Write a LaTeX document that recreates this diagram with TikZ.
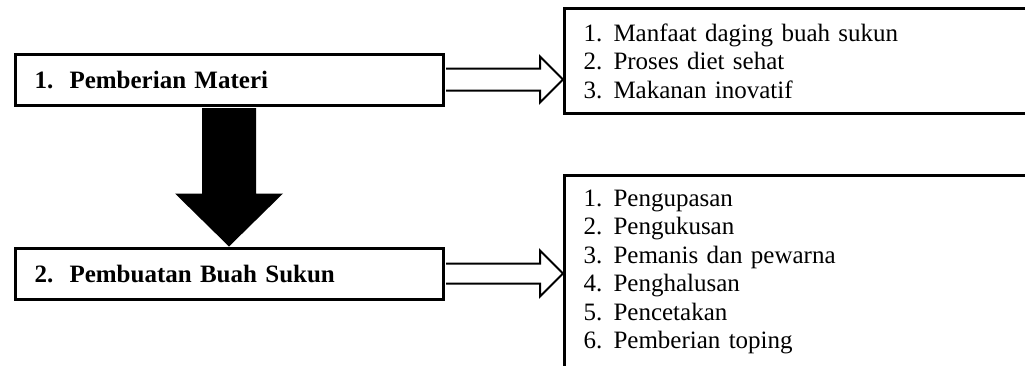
\documentclass[tikz,border=0pt]{standalone}
\usepackage{fontspec}
\setmainfont{Liberation Serif}
\usetikzlibrary{calc}

\newcommand{\butir}[2]{\makebox[30pt][l]{#1}#2}
\newcommand{\judul}[2]{\makebox[35pt][l]{#1}#2}

\begin{document}
\begin{tikzpicture}[x=1pt, y=-1pt, line join=miter,
	mainbox/.style={draw, line width=3pt, minimum width=428pt, minimum height=51pt, inner xsep=19.5pt, text width=389pt, align=left, font=\fontsize{25}{28.4}\selectfont\bfseries},
	listbox/.style={draw, line width=3pt, minimum width=480pt, inner xsep=19pt, text width=442pt, align=left, font=\fontsize{25}{28.4}\selectfont},
	hollow/.style={draw, line width=2pt, fill=white}]
		\clip (0,0) rectangle (1025,365);
		\useasboundingbox (0,0) rectangle (1025,365);
		
		\node[mainbox, anchor=north west] (materi) at (13.5,52.5) {\judul{1.}{Pemberian Materi}};
		\node[mainbox, anchor=north west] (pembuatan) at (13.5,246.5) {\judul{2.}{Pembuatan Buah Sukun}};
		
		\node[listbox, anchor=west, minimum height=105pt] (isimateri) at (563,61) {\butir{1.}{Manfaat daging buah sukun}\\ \butir{2.}{Proses diet sehat}\\ \butir{3.}{Makanan inovatif}};
		\node[listbox, anchor=west, minimum height=193pt] (isipembuatan) at (563,272) {\butir{1.}{Pengupasan}\\ \butir{2.}{Pengukusan}\\ \butir{3.}{Pemanis dan pewarna}\\ \butir{4.}{Penghalusan}\\ \butir{5.}{Pencetakan}\\ \butir{6.}{Pemberian toping}};
		
		% panah tebal antar langkah
		\fill ($(materi.south)+(-27,1.5)$) -- ($(pembuatan.north)+(-27,-53)$) -- ++(-27,0) -- (pembuatan.north) -- ++(54,-53) -- ++(-27,0) -- ($(materi.south)+(27,1.5)$) -- cycle;
		
		% panah ke rincian
		\draw[hollow] ($(materi.east)+(1.5,-11)$) -- ($(materi.east -| isimateri.west)+(-23,-11)$) -- ++(0,-12) -- (materi.east -| isimateri.west) -- ++(-23,23) -- ++(0,-12) -- ($(materi.east)+(1.5,11)$);
		\draw[hollow] ($(pembuatan.east)+(1.5,-10)$) -- ($(pembuatan.east -| isipembuatan.west)+(-23,-10)$) -- ++(0,-13) -- (pembuatan.east -| isipembuatan.west) -- ++(-23,23) -- ++(0,-13) -- ($(pembuatan.east)+(1.5,10)$);
	\end{tikzpicture}
\end{document}
